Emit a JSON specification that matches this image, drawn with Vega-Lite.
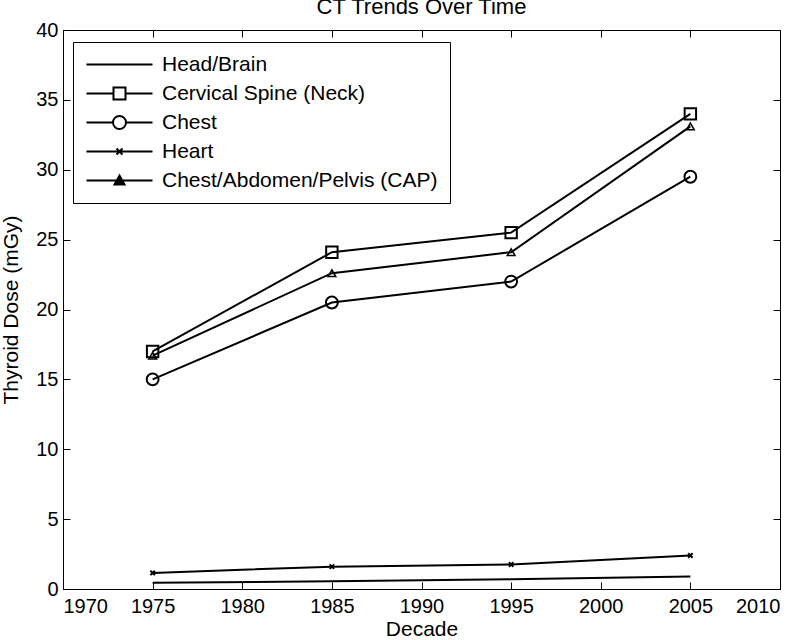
{
  "$schema": "https://vega.github.io/schema/vega-lite/v6.json",
  "width": 717,
  "height": 559,
  "autosize": "none",
  "padding": {"left": 63, "top": 30, "right": 20, "bottom": 51},
  "background": "white",
  "title": {"text": "CT Trends Over Time", "fontSize": 22, "font": "Liberation Sans", "fontWeight": "normal", "color": "black", "offset": 9, "dy": 8},
  "config": {
    "view": {"stroke": "black", "strokeWidth": 1},
    "font": "Liberation Sans",
    "axis": {"grid": false, "domainColor": "black", "tickColor": "black", "labelColor": "black", "titleColor": "black", "labelFontSize": 20, "titleFontSize": 21, "titleFontWeight": "normal", "tickSize": -7, "labelFont": "Liberation Sans", "titleFont": "Liberation Sans"}
  },
  "data": {"values": [
    {"decade": 1975, "series": "Head/Brain", "dose": 0.45},
    {"decade": 1985, "series": "Head/Brain", "dose": 0.55},
    {"decade": 1995, "series": "Head/Brain", "dose": 0.7},
    {"decade": 2005, "series": "Head/Brain", "dose": 0.9},
    {"decade": 1975, "series": "Cervical Spine (Neck)", "dose": 17.0},
    {"decade": 1985, "series": "Cervical Spine (Neck)", "dose": 24.1},
    {"decade": 1995, "series": "Cervical Spine (Neck)", "dose": 25.5},
    {"decade": 2005, "series": "Cervical Spine (Neck)", "dose": 34.0},
    {"decade": 1975, "series": "Chest", "dose": 15.0},
    {"decade": 1985, "series": "Chest", "dose": 20.5},
    {"decade": 1995, "series": "Chest", "dose": 22.0},
    {"decade": 2005, "series": "Chest", "dose": 29.5},
    {"decade": 1975, "series": "Heart", "dose": 1.15},
    {"decade": 1985, "series": "Heart", "dose": 1.6},
    {"decade": 1995, "series": "Heart", "dose": 1.75},
    {"decade": 2005, "series": "Heart", "dose": 2.4},
    {"decade": 1975, "series": "Chest/Abdomen/Pelvis (CAP)", "dose": 16.7},
    {"decade": 1985, "series": "Chest/Abdomen/Pelvis (CAP)", "dose": 22.6},
    {"decade": 1995, "series": "Chest/Abdomen/Pelvis (CAP)", "dose": 24.1},
    {"decade": 2005, "series": "Chest/Abdomen/Pelvis (CAP)", "dose": 33.1}
  ]},
  "layer": [
    {
      "mark": {"type": "line", "color": "black", "strokeWidth": 2},
      "encoding": {
        "x": {"field": "decade", "type": "quantitative", "scale": {"domain": [1970, 2010], "nice": false, "zero": false}, "axis": {"values": [1970, 1975, 1980, 1985, 1990, 1995, 2000, 2005, 2010], "format": "d", "title": "Decade", "labelPadding": 14, "titlePadding": 2}},
        "y": {"field": "dose", "type": "quantitative", "scale": {"domain": [0, 40], "nice": false}, "axis": {"values": [0, 5, 10, 15, 20, 25, 30, 35, 40], "title": "Thyroid Dose (mGy)", "labelPadding": 12, "titlePadding": 14}},
        "detail": {"field": "series"}
      }
    },
    {
      "transform": [{"filter": "datum.series == 'Cervical Spine (Neck)'"}],
      "mark": {"type": "point", "shape": "square", "size": 130, "filled": false, "color": "black", "strokeWidth": 2, "opacity": 1},
      "encoding": {
        "x": {"field": "decade", "type": "quantitative", "axis": null},
        "y": {"field": "dose", "type": "quantitative", "axis": null}
      }
    },
    {
      "transform": [{"filter": "datum.series == 'Chest'"}],
      "mark": {"type": "point", "shape": "circle", "size": 140, "filled": false, "color": "black", "strokeWidth": 2, "opacity": 1},
      "encoding": {
        "x": {"field": "decade", "type": "quantitative", "axis": null},
        "y": {"field": "dose", "type": "quantitative", "axis": null}
      }
    },
    {
      "transform": [{"filter": "datum.series == 'Heart'"}],
      "mark": {"type": "point", "shape": "M-1,-1L1,1M-1,1L1,-1", "size": 20, "filled": false, "color": "black", "strokeWidth": 2, "opacity": 1},
      "encoding": {
        "x": {"field": "decade", "type": "quantitative", "axis": null},
        "y": {"field": "dose", "type": "quantitative", "axis": null}
      }
    },
    {
      "transform": [{"filter": "datum.series == 'Chest/Abdomen/Pelvis (CAP)'"}],
      "mark": {"type": "point", "shape": "triangle-up", "size": 60, "filled": false, "color": "black", "strokeWidth": 1.5, "opacity": 1},
      "encoding": {
        "x": {"field": "decade", "type": "quantitative", "axis": null},
        "y": {"field": "dose", "type": "quantitative", "axis": null}
      }
    },
    {
      "mark": {"type": "point", "filled": false, "color": "black", "strokeWidth": 2, "strokeOpacity": 0, "fillOpacity": 0},
      "encoding": {
        "x": {"field": "decade", "type": "quantitative", "axis": {"orient": "top", "labels": false, "title": null, "domain": false, "values": [1970, 1975, 1980, 1985, 1990, 1995, 2000, 2005, 2010]}},
        "y": {"field": "dose", "type": "quantitative", "axis": {"orient": "right", "labels": false, "title": null, "domain": false, "values": [0, 5, 10, 15, 20, 25, 30, 35, 40]}},
        "shape": {"field": "series", "type": "nominal", "scale": {"domain": ["Head/Brain", "Cervical Spine (Neck)", "Chest", "Heart", "Chest/Abdomen/Pelvis (CAP)"], "range": [
          "M-1.8,0H11.4",
          "M-1.8,0H3.6M6,0H11.4M3.6,-1.2H6V1.2H3.6Z",
          "M-1.8,0H3.5M6.1,0H11.4M6.1,0A1.3,1.3,0,1,1,3.5,0A1.3,1.3,0,1,1,6.1,0Z",
          "M-1.8,0H11.4M4.2,-0.6L5.4,0.6M4.2,0.6L5.4,-0.6",
          "M-1.8,0H11.4M3.8,0.8L5.8,0.8L4.8,-1ZM4.3,0.5L5.3,0.5L4.8,-0.4ZM4.8,0.6V-0.6"
        ]}, "legend": {"title": null, "orient": "none", "legendX": 10, "legendY": 12, "padding": 12, "strokeColor": "black", "fillColor": "white", "symbolSize": 100, "symbolOpacity": 1, "symbolStrokeColor": "black", "symbolStrokeWidth": 2, "symbolFillColor": "transparent", "labelFontSize": 21, "labelColor": "black", "labelFont": "Liberation Sans", "labelOffset": 56, "rowPadding": 7, "labelLimit": 500, "cornerRadius": 0,
          "encode": {"symbols": {"update": {"stroke": {"value": "black"}, "strokeWidth": {"signal": "datum.value == 'Chest/Abdomen/Pelvis (CAP)' ? 3 : 2"}, "opacity": {"value": 1}, "strokeOpacity": {"value": 1}}}}}}
      }
    }
  ],
  "resolve": {"axis": {"x": "independent", "y": "independent"}}
}
